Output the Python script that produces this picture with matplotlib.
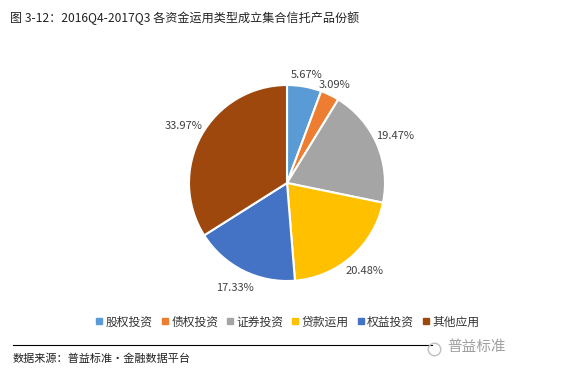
import matplotlib.pyplot as plt
from matplotlib.lines import Line2D

plt.rcParams['font.family'] = ['Noto Sans CJK SC', 'DejaVu Sans']

# --- Data ---
categories = ['股权投资', '债权投资', '证券投资', '贷款运用', '权益投资', '其他应用']
shares = [5.67, 3.09, 19.47, 20.48, 17.33, 33.97]
colors = ['#5B9BD5', '#ED7D31', '#A5A5A5', '#FFC000', '#4472C4', '#9E480E']

title = '图 3-12：2016Q4-2017Q3 各资金运用类型成立集合信托产品份额'
source = '数据来源：普益标准·金融数据平台'

W, H = 571, 380
fig = plt.figure(figsize=(W / 100, H / 100), dpi=100)

# pie axes placed in pixel terms: centre (287, 183), radius 98
cx, cy, r = 287, 183, 98
ax = fig.add_axes([(cx - r) / W, (H - cy - r) / H, 2 * r / W, 2 * r / H])
wedges, texts, autotexts = ax.pie(
    shares, colors=colors, startangle=90, counterclock=False,
    autopct='%.2f%%', pctdistance=1.2,
    wedgeprops=dict(edgecolor='white', linewidth=1.5),
    textprops=dict(fontsize=8, color='#404040'))
# the smallest top slices sit a little closer to the pie, like Excel's best fit
for t in autotexts[:2]:
    x, y = t.get_position()
    t.set_position((x * 0.93, y * 0.93))
ax.set_xlim(-1, 1)
ax.set_ylim(-1, 1)
ax.set_aspect('equal')

# title
fig.text(10 / W, 1 - 18 / H, title, fontsize=8.7, va='center', ha='left', color='#222222')

# legend
handles = [Line2D([], [], marker='s', linestyle='', markersize=5,
                  markerfacecolor=c, markeredgecolor=c) for c in colors]
fig.legend(handles, categories, loc='center', bbox_to_anchor=(287 / W, 1 - 322 / H),
           ncol=6, frameon=False, fontsize=8.5, handletextpad=0.15, columnspacing=0.6,
           handlelength=0.8, labelcolor='#333333')

# separator line and source
fig.add_artist(Line2D([13 / W, 432 / W], [1 - 345 / H, 1 - 345 / H],
                      color='black', linewidth=0.8))
fig.text(13 / W, 1 - 359 / H, source, fontsize=8, style='italic',
         va='center', ha='left', color='#222222')

# watermark logo
fig.add_artist(Line2D([434 / W], [1 - 349 / H], marker='o', markersize=9,
                      markerfacecolor='none', markeredgecolor='#c0c0c0', linestyle=''))
fig.text(447 / W, 1 - 347 / H, '普益标准', fontsize=10.5, color='#a0a0a0',
         va='center', ha='left')

fig.savefig('out.png', dpi=100, facecolor='white')
